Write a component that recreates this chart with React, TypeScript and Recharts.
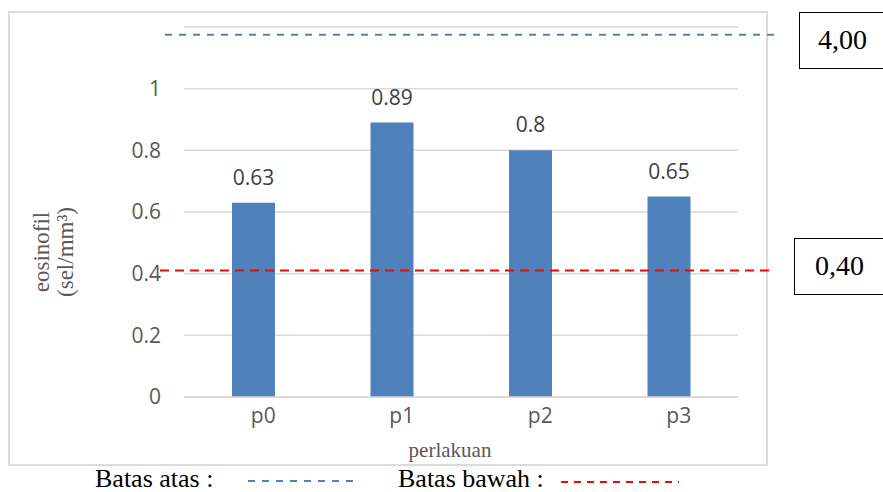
import { BarChart, Bar, XAxis, YAxis, CartesianGrid, ReferenceLine, LabelList } from "recharts";

const perlakuan = ["p0", "p1", "p2", "p3"];
const eosinofil = [0.63, 0.89, 0.8, 0.65];
const yTicks = [0, 0.2, 0.4, 0.6, 0.8, 1];
// dashed limit lines, placed where they sit in the picture
const batasAtasPos = 1.175;
const batasBawahPos = 0.41;
const batasAtasText = "4,00";
const batasBawahText = "0,40";

const data = perlakuan.map((p, i) => ({ name: p, value: eosinofil[i] }));

const sans = "'Open Sans', sans-serif";
const serif = "'Liberation Serif', 'Times New Roman', serif";

// reference line that runs a bit past the plot on both sides
const longLine = (extraLeft: number, extraRight: number, color: string, dash: string) =>
  (props: any) => (
    <line
      x1={props.x1 - extraLeft}
      x2={props.x2 + extraRight}
      y1={props.y1}
      y2={props.y2}
      stroke={color}
      strokeWidth={2}
      strokeDasharray={dash}
    />
  );

export default function App() {
  return (
    <div style={{ position: "fixed", left: 0, top: 0, width: 883, height: 492, overflow: "hidden", background: "#fff" }}>
      <div
        style={{
          position: "absolute",
          left: 8,
          top: 11,
          width: 760,
          height: 455,
          border: "2px solid #dcdcdc",
          boxSizing: "border-box",
        }}
      />

      <div style={{ position: "absolute", left: 0, top: 0 }}>
        <BarChart width={883} height={492} data={data} margin={{ top: 27, right: 145, bottom: 0, left: 0 }}>
          <CartesianGrid vertical={false} stroke="#d9d9d9" strokeWidth={1.5} />
          <XAxis
            dataKey="name"
            height={95}
            tickLine={false}
            tickSize={0}
            tickMargin={11}
            axisLine={{ stroke: "#d9d9d9", strokeWidth: 1.5 }}
            tick={{ fill: "#595959", fontSize: 21, fontFamily: sans, dx: 10 }}
          />
          <YAxis
            width={184}
            domain={[0, 1.2]}
            ticks={yTicks}
            axisLine={false}
            tickLine={false}
            tickSize={0}
            tickMargin={23}
            tick={{ fill: "#595959", fontSize: 21, fontFamily: sans }}
          />
          <Bar dataKey="value" fill="#4f81bd" barSize={43} isAnimationActive={false}>
            <LabelList
              dataKey="value"
              position="top"
              offset={18}
              style={{ fill: "#404040", fontSize: 21, fontFamily: sans }}
            />
          </Bar>
          <ReferenceLine
            y={batasAtasPos}
            ifOverflow="visible"
            shape={longLine(19, 37, "#4f81bd", "7 7")}
          />
          <ReferenceLine
            y={batasBawahPos}
            ifOverflow="visible"
            shape={longLine(24, 34, "#ff0000", "9 6")}
          />
        </BarChart>
      </div>

      <div
        style={{
          position: "absolute",
          left: 54,
          top: 252,
          transform: "translate(-50%, -50%) rotate(-90deg)",
          fontFamily: serif,
          fontSize: 23,
          lineHeight: "24px",
          color: "#595959",
          textAlign: "center",
          whiteSpace: "nowrap",
        }}
      >
        eosinofil
        <br />
        (sel/mm³)
      </div>

      <div
        style={{
          position: "absolute",
          left: 450,
          top: 440,
          transform: "translateX(-50%)",
          fontFamily: serif,
          fontSize: 21,
          lineHeight: 1,
          color: "#595959",
          whiteSpace: "nowrap",
        }}
      >
        perlakuan
      </div>

      <div
        style={{
          position: "absolute",
          left: 799,
          top: 12,
          width: 110,
          height: 57,
          border: "1.5px solid #000",
          boxSizing: "border-box",
          fontFamily: serif,
          fontSize: 28,
          lineHeight: "54px",
          paddingLeft: 18,
          color: "#000",
        }}
      >
        {batasAtasText}
      </div>
      <div
        style={{
          position: "absolute",
          left: 794,
          top: 238,
          width: 110,
          height: 57,
          border: "1.5px solid #000",
          boxSizing: "border-box",
          fontFamily: serif,
          fontSize: 28,
          lineHeight: "54px",
          paddingLeft: 20,
          color: "#000",
        }}
      >
        {batasBawahText}
      </div>

      <div
        style={{ position: "absolute", left: 95, top: 466, fontFamily: serif, fontSize: 26, lineHeight: 1, color: "#000", whiteSpace: "nowrap" }}
      >
        Batas atas :
      </div>
      <svg style={{ position: "absolute", left: 248, top: 476 }} width={106} height={10}>
        <line x1={0} x2={106} y1={5} y2={5} stroke="#4f81bd" strokeWidth={2} strokeDasharray="7 7" />
      </svg>
      <div
        style={{ position: "absolute", left: 398, top: 466, fontFamily: serif, fontSize: 26, lineHeight: 1, color: "#000", whiteSpace: "nowrap" }}
      >
        Batas bawah :
      </div>
      <svg style={{ position: "absolute", left: 561, top: 477 }} width={118} height={10}>
        <line x1={0} x2={118} y1={5} y2={5} stroke="#ff0000" strokeWidth={2} strokeDasharray="7 6" />
      </svg>
    </div>
  );
}
